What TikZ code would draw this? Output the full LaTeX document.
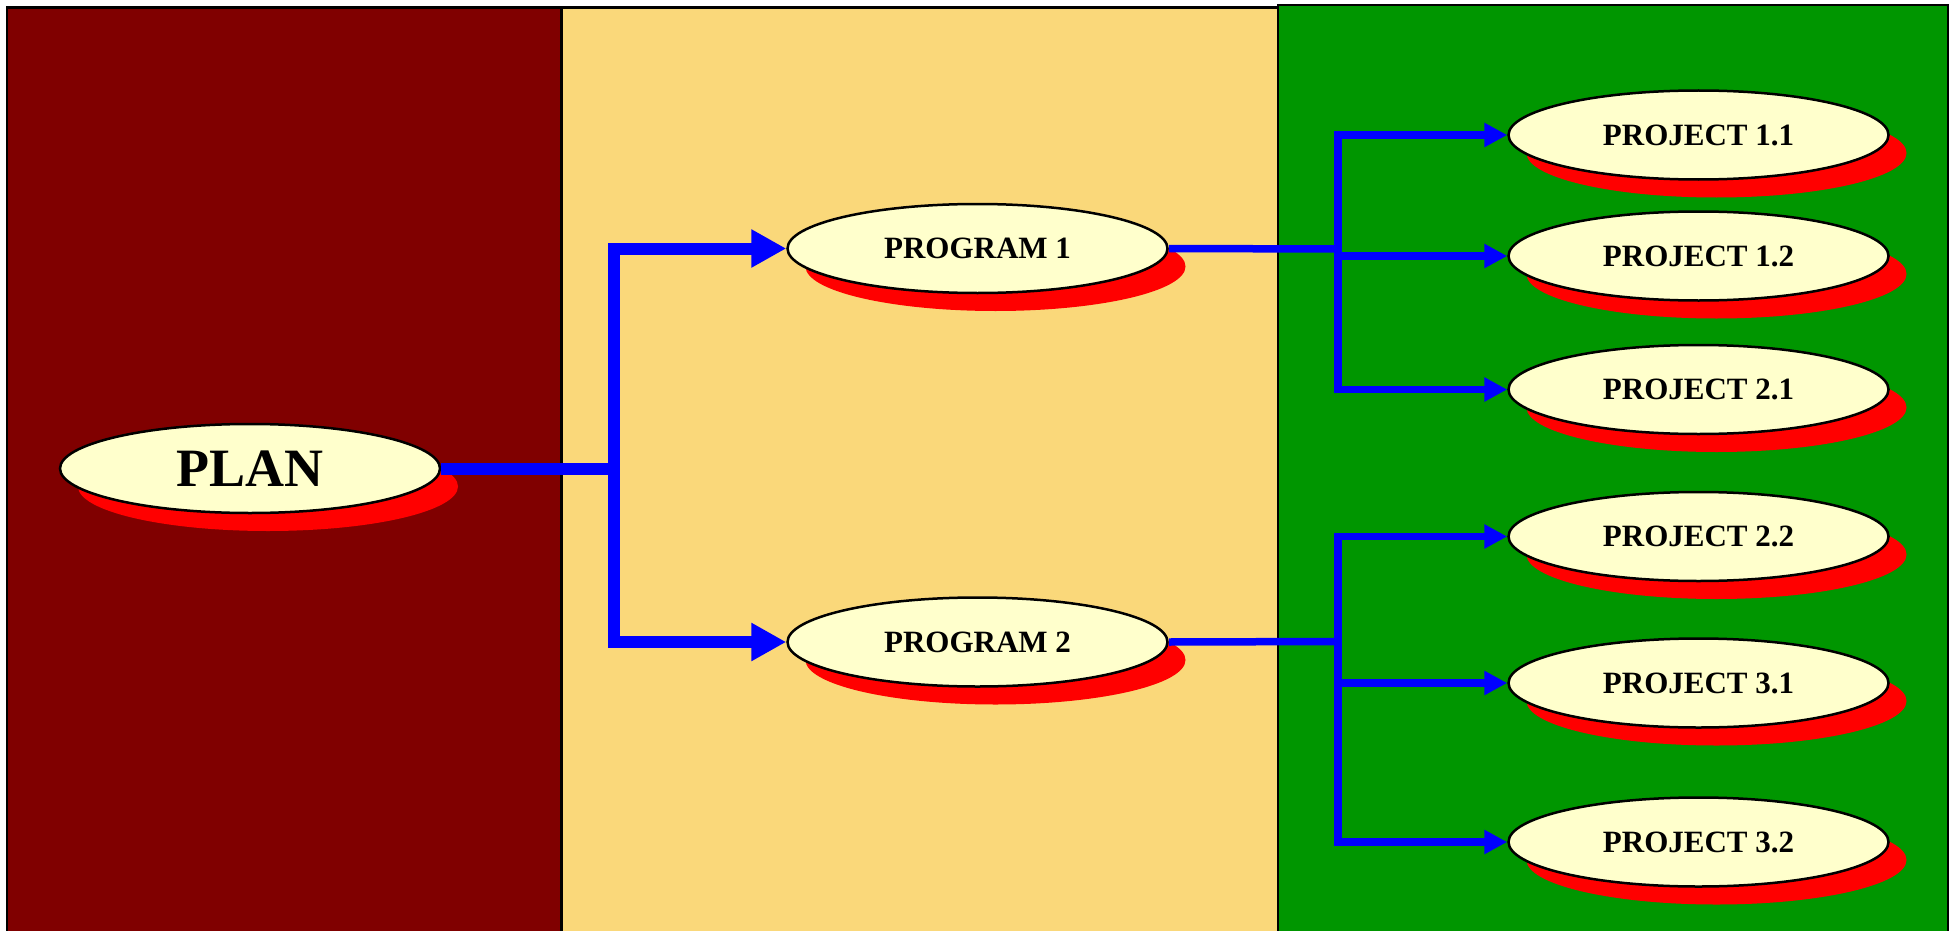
\documentclass[tikz,border=0pt]{standalone}
\usepackage{fontspec}
\setmainfont{Liberation Serif}
\usetikzlibrary{arrows.meta,shapes.geometric,shadows}

\definecolor{darkmaroon}{RGB}{128,0,0}
\definecolor{sand}{RGB}{250,216,122}
\definecolor{leaf}{RGB}{0,150,0}
\definecolor{cream}{RGB}{255,255,204}

\tikzset{
  panel/.style={draw=black, line width=2.5pt},
  bubble/.style={ellipse, draw=black, line width=2.5pt, fill=cream,
    minimum width=380pt, minimum height=89pt, inner sep=0pt,
    font=\bfseries\fontsize{31}{36}\selectfont,
    drop shadow={shadow xshift=18pt, shadow yshift=-18pt, fill=red, opacity=1}},
  bigbubble/.style={bubble, font=\bfseries\fontsize{54}{60}\selectfont},
  trunk/.style={draw=blue, line width=12pt},
  trunkarrow/.style={trunk, -{Triangle[length=35pt,width=36pt]}},
  twig/.style={draw=blue, line width=7.5pt},
  twigarrow/.style={twig, -{Triangle[length=23pt,width=23pt]}},
}

\begin{document}
\begin{tikzpicture}[x=1pt, y=-1pt]
  \useasboundingbox (0,0) rectangle (1956,931);
  \fill[white] (0,0) rectangle (1956,931);

  % three coloured columns
  \filldraw[panel, fill=sand] (561.5,7.5) rectangle (1278,940);
  \filldraw[panel, fill=darkmaroon] (7,7.5) rectangle (561.5,940);
  \filldraw[panel, fill=leaf] (1278,5) rectangle (1948,940);

  % nodes
  \node[bigbubble] (plan)  at (250,468.5) {PLAN};
  \node[bubble] (prog1) at (977.5,248.5) {PROGRAM 1};
  \node[bubble] (prog2) at (977.5,642) {PROGRAM 2};

  \node[bubble] (p11) at (1698.5,135)   {PROJECT 1.1};
  \node[bubble] (p12) at (1698.5,256)   {PROJECT 1.2};
  \node[bubble] (p21) at (1698.5,389.5) {PROJECT 2.1};
  \node[bubble] (p22) at (1698.5,536.5) {PROJECT 2.2};
  \node[bubble] (p31) at (1698.5,683)   {PROJECT 3.1};
  \node[bubble] (p32) at (1698.5,842)   {PROJECT 3.2};

  % junction points
  \coordinate (fork) at (614.3,468.5);
  \coordinate (hub1) at (1338,249);
  \coordinate (hub2) at (1338,641.5);

  % plan to programs
  \draw[trunk] (plan.east) -- (fork);
  \draw[trunkarrow] (fork) |- (prog1.west);
  \draw[trunkarrow] (fork) |- (prog2.west);

  % programs to projects
  \draw[twig] (prog1.east) -- (hub1);
  \draw[twigarrow] (hub1) |- (p11.west);
  \draw[twigarrow] (hub1) |- (p12.west);
  \draw[twigarrow] (hub1) |- (p21.west);

  \draw[twig] (prog2.east) -- (hub2);
  \draw[twigarrow] (hub2) |- (p22.west);
  \draw[twigarrow] (hub2) |- (p31.west);
  \draw[twigarrow] (hub2) |- (p32.west);
\end{tikzpicture}
\end{document}
